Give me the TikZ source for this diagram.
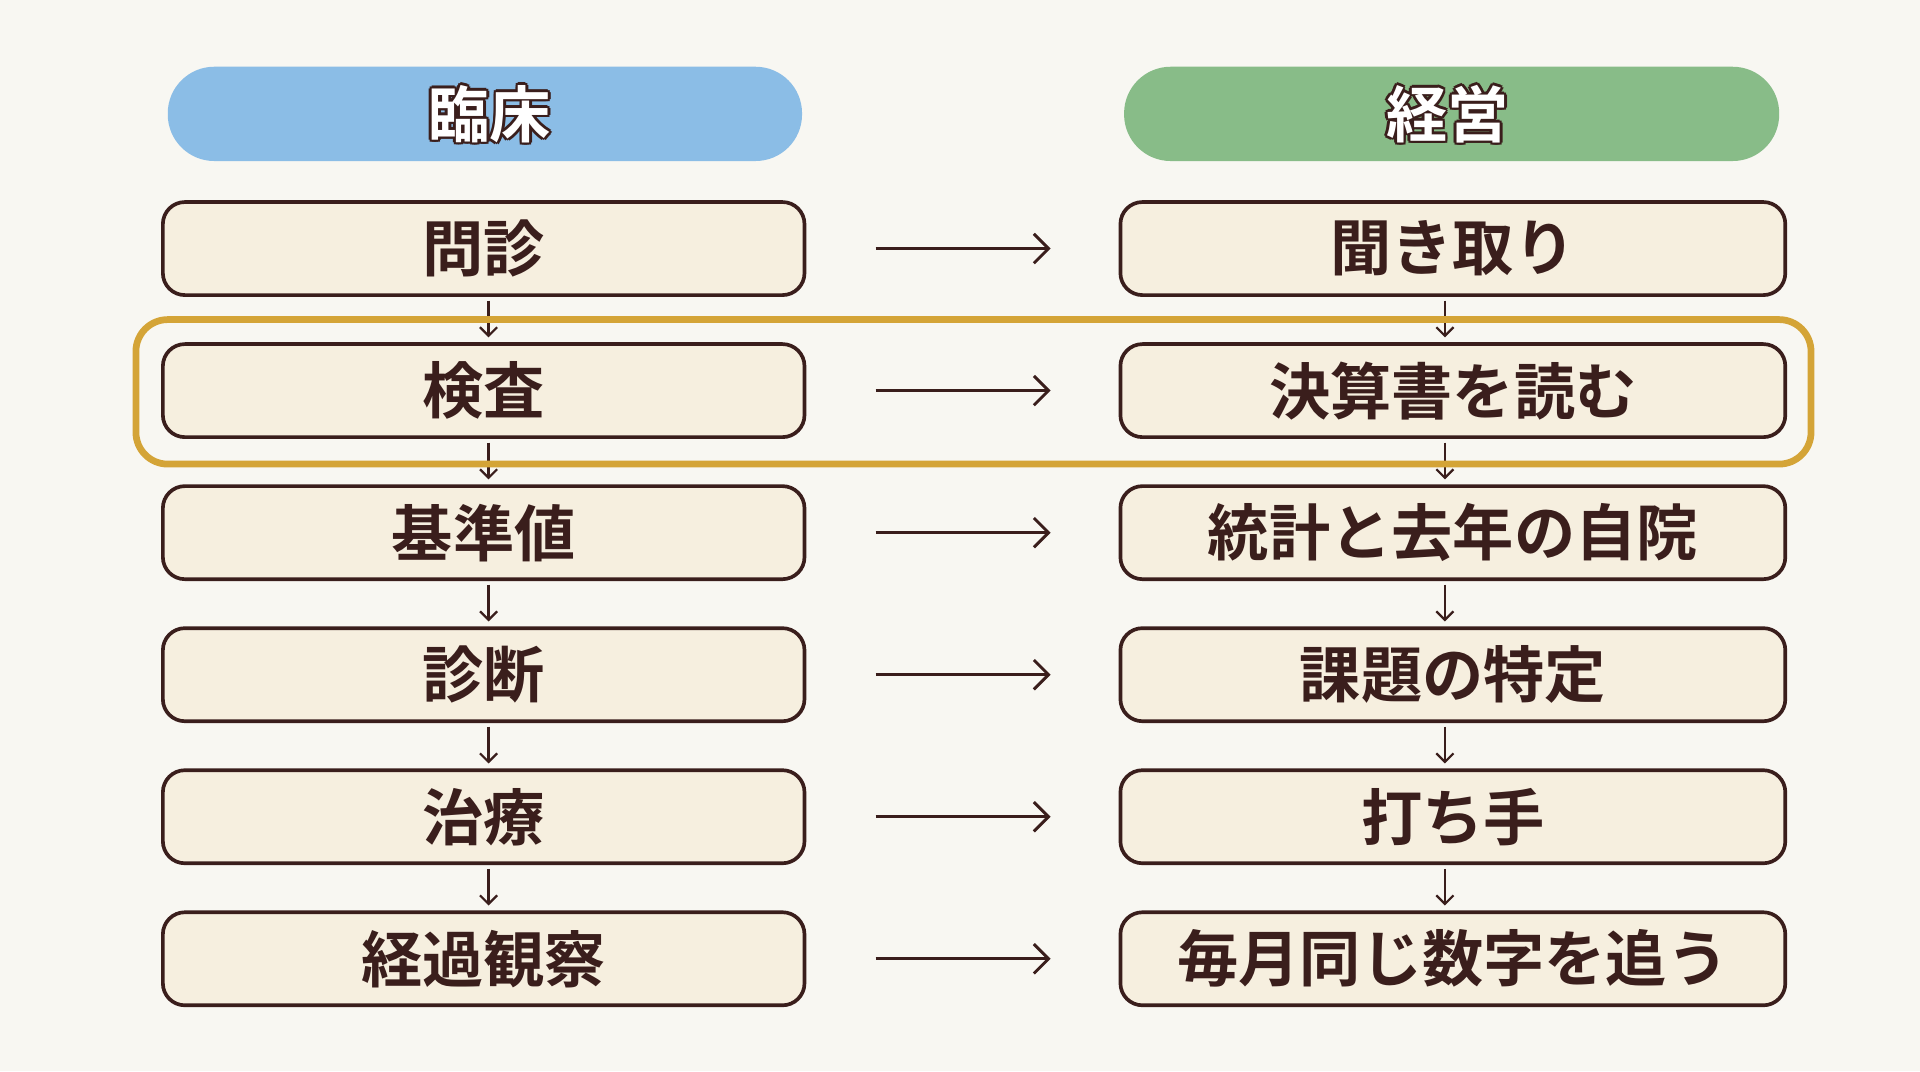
\documentclass[tikz,border=0pt]{standalone}
\usepackage{fontspec}
\newfontfamily\jp{Noto Sans CJK JP}[BoldFont={Noto Sans CJK JP Bold}]
\definecolor{bg}{HTML}{F8F7F2}
\definecolor{ink}{HTML}{3A1E1C}
\definecolor{boxf}{HTML}{F6EFDF}
\definecolor{blueh}{HTML}{8BBDE6}
\definecolor{greenh}{HTML}{88BC88}
\definecolor{gold}{HTML}{D4A437}
\usetikzlibrary{arrows.meta}
\tikzset{
 box/.style={draw=ink,line width=3pt,fill=boxf,rounded corners=18pt,minimum width=524pt,minimum height=76pt,font=\jp\bfseries\fontsize{50}{50}\selectfont,text=ink,inner sep=0pt},
 rbox/.style={box,minimum width=543pt},
 head/.style={rounded corners=38pt,minimum height=77pt,inner sep=0pt},
 harr/.style={draw=ink,line width=2.4pt,-{Straight Barb[length=12pt,width=24pt]}},
 varr/.style={draw=ink,line width=1.8pt,shorten >=4pt,shorten <=3pt,-{Straight Barb[length=7pt,width=14pt]}},
 htext/.style={font=\jp\bfseries\fontsize{50}{50}\selectfont},
}
\newcommand{\outl}[2]{%
 \foreach \dx/\dy in {2.2/0,-2.2/0,0/2.2,0/-2.2,1.6/1.6,-1.6/1.6,1.6/-1.6,-1.6/-1.6}{\node[htext,text=ink] at ([shift={(\dx pt,\dy pt)}]#1) {#2};}
 \node[htext,text=white] at (#1) {#2};}
\begin{document}
\begin{tikzpicture}[x=1pt,y=-1pt]
\fill[bg] (0,0) rectangle (1568,875);
\useasboundingbox (0,0) rectangle (1568,875);
\node[head,fill=blueh,minimum width=518pt] (hl) at (396,93) {};
\node[head,fill=greenh,minimum width=535pt] (hr) at (1185.5,93) {};
\coordinate (hlc) at (400,93); \coordinate (hrc) at (1182,93);
\outl{hlc}{臨床}
\outl{hrc}{経営}
\foreach \i/\y/\l/\r in {1/203/問診/聞き取り,2/319/検査/決算書を読む,3/435/基準値/統計と去年の自院,4/551/診断/課題の特定,5/667/治療/打ち手,6/783/経過観察/毎月同じ数字を追う}{
 \node[box] (L\i) at (395,\y) {\l};
 \node[rbox] (R\i) at (1186.5,\y) {\r};
 \coordinate (a\i) at (715,\y); \coordinate (b\i) at (858,\y);
 \draw[harr] (a\i) -- (b\i);
}
\foreach \i/\j in {1/2,2/3,3/4,4/5,5/6}{
 \draw[varr] ([xshift=4pt]L\i.south) -- ([xshift=4pt]L\j.north);
 \draw[varr] ([xshift=-6.5pt]R\i.south) -- ([xshift=-6.5pt]R\j.north);
}
\node[draw=gold,line width=5.5pt,rounded corners=26pt,minimum width=1368pt,minimum height=118pt] (hl2) at (795,320) {};
\end{tikzpicture}
\end{document}
